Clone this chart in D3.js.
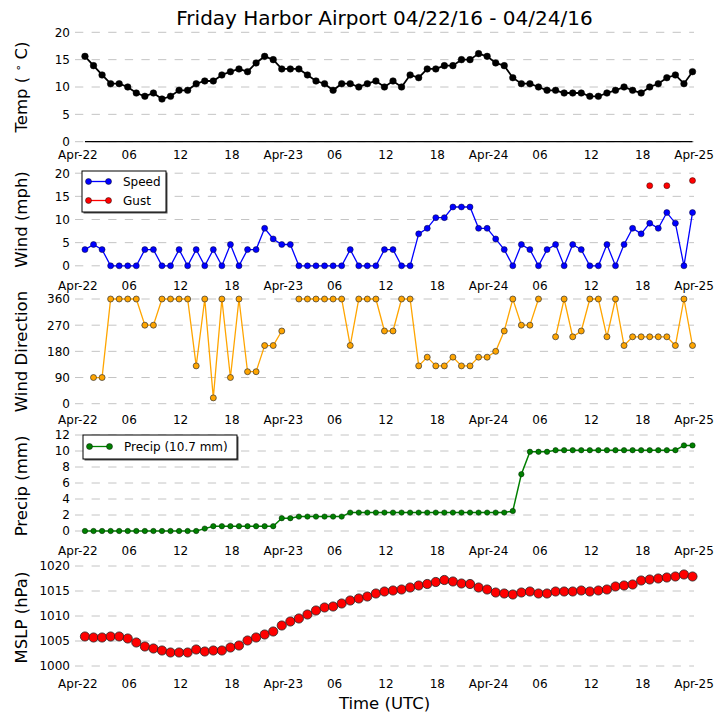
<!DOCTYPE html>
<html>
<head>
<meta charset="utf-8">
<script src="https://cdn.jsdelivr.net/npm/d3@7"></script>
<style>
	body { margin: 0; background: #fff; }
</style>
</head>
<body>
<div id="chart"></div>
<script>
// hourly METAR observations, Friday Harbor Airport
const obsTimes = [
	'2016-04-22 00:53','2016-04-22 01:53','2016-04-22 02:53','2016-04-22 03:53','2016-04-22 04:53','2016-04-22 05:53',
	'2016-04-22 06:53','2016-04-22 07:53','2016-04-22 08:53','2016-04-22 09:53','2016-04-22 10:53','2016-04-22 11:53',
	'2016-04-22 12:53','2016-04-22 13:53','2016-04-22 14:53','2016-04-22 15:53','2016-04-22 16:53','2016-04-22 17:53',
	'2016-04-22 18:53','2016-04-22 19:53','2016-04-22 20:53','2016-04-22 21:53','2016-04-22 22:53','2016-04-22 23:53',
	'2016-04-23 00:53','2016-04-23 01:53','2016-04-23 02:53','2016-04-23 03:53','2016-04-23 04:53','2016-04-23 05:53',
	'2016-04-23 06:53','2016-04-23 07:53','2016-04-23 08:53','2016-04-23 09:53','2016-04-23 10:53','2016-04-23 11:53',
	'2016-04-23 12:53','2016-04-23 13:53','2016-04-23 14:53','2016-04-23 15:53','2016-04-23 16:53','2016-04-23 17:53',
	'2016-04-23 18:53','2016-04-23 19:53','2016-04-23 20:53','2016-04-23 21:53','2016-04-23 22:53','2016-04-23 23:53',
	'2016-04-24 00:53','2016-04-24 01:53','2016-04-24 02:53','2016-04-24 03:53','2016-04-24 04:53','2016-04-24 05:53',
	'2016-04-24 06:53','2016-04-24 07:53','2016-04-24 08:53','2016-04-24 09:53','2016-04-24 10:53','2016-04-24 11:53',
	'2016-04-24 12:53','2016-04-24 13:53','2016-04-24 14:53','2016-04-24 15:53','2016-04-24 16:53','2016-04-24 17:53',
	'2016-04-24 18:53','2016-04-24 19:53','2016-04-24 20:53','2016-04-24 21:53','2016-04-24 22:53','2016-04-24 23:53'
];

const tempC = [
	15.6, 13.9, 12.2, 10.6, 10.6, 10.0, 8.9, 8.3, 8.9, 7.8,
	8.3, 9.4, 9.4, 10.6, 11.1, 11.1, 12.2, 12.8, 13.3, 12.8,
	14.4, 15.6, 15.0, 13.3, 13.3, 13.3, 12.2, 11.1, 10.6, 9.4,
	10.6, 10.6, 10.0, 10.6, 11.1, 10.0, 11.1, 10.0, 12.2, 11.7,
	13.3, 13.3, 13.9, 13.9, 15.0, 15.0, 16.1, 15.6, 14.4, 13.9,
	11.7, 10.6, 10.6, 10.0, 9.4, 9.4, 8.9, 8.9, 8.9, 8.3,
	8.3, 8.9, 9.4, 10.0, 9.4, 8.9, 10.0, 10.6, 11.7, 12.2,
	10.6, 12.8
];

const windSpeed = [
	3.5, 4.6, 3.5, 0, 0, 0, 0, 3.5, 3.5, 0,
	0, 3.5, 0, 3.5, 0, 3.5, 0, 4.6, 0, 3.5,
	3.5, 8.1, 5.8, 4.6, 4.6, 0, 0, 0, 0, 0,
	0, 3.5, 0, 0, 0, 3.5, 3.5, 0, 0, 6.9,
	8.1, 10.4, 10.4, 12.7, 12.7, 12.7, 8.1, 8.1, 5.8, 3.5,
	0, 4.6, 3.5, 0, 3.5, 4.6, 0, 4.6, 3.5, 0,
	0, 4.6, 0, 4.6, 8.1, 6.9, 9.2, 8.1, 11.5, 9.2,
	0, 11.5
];

const windGust = [
	null, null, null, null, null, null, null, null, null, null,
	null, null, null, null, null, null, null, null, null, null,
	null, null, null, null, null, null, null, null, null, null,
	null, null, null, null, null, null, null, null, null, null,
	null, null, null, null, null, null, null, null, null, null,
	null, null, null, null, null, null, null, null, null, null,
	null, null, null, null, null, null, 17.3, null, 17.3, null,
	null, 18.4
];

// null = variable direction
const windDir = [
	null, 90, 90, 360, 360, 360, 360, 270, 270, 360,
	360, 360, 360, 130, 360, 20, 360, 90, 360, 110,
	110, 200, 200, 250, null, 360, 360, 360, 360, 360,
	360, 200, 360, 360, 360, 250, 250, 360, 360, 130,
	160, 130, 130, 160, 130, 130, 160, 160, 180, 250,
	360, 270, 270, 360, null, 230, 360, 230, 250, 360,
	360, 230, 360, 200, 230, 230, 230, 230, 230, 200,
	360, 200
];

const precipMm = [
	0, 0, 0, 0, 0, 0, 0, 0, 0, 0,
	0, 0, 0, 0, 0.3, 0.6, 0.6, 0.6, 0.6, 0.6,
	0.6, 0.6, 0.6, 1.6, 1.6, 1.8, 1.8, 1.8, 1.8, 1.8,
	1.8, 2.3, 2.3, 2.3, 2.3, 2.3, 2.3, 2.3, 2.3, 2.3,
	2.3, 2.3, 2.3, 2.3, 2.3, 2.3, 2.3, 2.3, 2.3, 2.3,
	2.5, 7.1, 9.9, 9.9, 9.9, 10.1, 10.1, 10.1, 10.1, 10.1,
	10.1, 10.1, 10.1, 10.1, 10.1, 10.1, 10.1, 10.1, 10.1, 10.1,
	10.7, 10.7
];

const mslp = [
	1005.9, 1005.7, 1005.7, 1005.9, 1005.9, 1005.5, 1004.7, 1003.9, 1003.5, 1003.1,
	1002.7, 1002.7, 1002.7, 1003.3, 1002.9, 1003.1, 1003.1, 1003.7, 1004.1, 1005.1,
	1005.7, 1006.3, 1006.9, 1008.1, 1008.9, 1009.5, 1010.3, 1011.1, 1011.7, 1011.9,
	1012.5, 1013.1, 1013.5, 1013.9, 1014.5, 1014.9, 1015.1, 1015.3, 1015.7, 1016.1,
	1016.4, 1016.8, 1017.2, 1016.9, 1016.5, 1016.4, 1015.7, 1015.3, 1014.7, 1014.5,
	1014.3, 1014.7, 1014.9, 1014.5, 1014.5, 1014.9, 1014.9, 1014.9, 1015.1, 1014.9,
	1015.1, 1015.3, 1015.9, 1016.1, 1016.3, 1017.1, 1017.3, 1017.5, 1017.7, 1017.9,
	1018.3, 1017.9
];

const xTickLabels = ['Apr-22', '06', '12', '18', 'Apr-23', '06', '12', '18', 'Apr-24', '06', '12', '18', 'Apr-25'];
const tempTicks = [0, 5, 10, 15, 20];
const windTicks = [0, 5, 10, 15, 20];
const dirTicks = [0, 90, 180, 270, 360];
const precipTicks = [0, 2, 4, 6, 8, 10, 12];
const mslpTicks = [1000, 1005, 1010, 1015, 1020];

const font = 'DejaVu Sans';
let svgWidth = 725
let svgHeight = 725
let plotLeft = 75
let plotRight = 694

let svg = d3.select('#chart').append('svg')
	.attr('width', svgWidth)
	.attr('height', svgHeight)
	.style('background', '#fff')

let parseTime = d3.utcParse('%Y-%m-%d %H:%M');
let times = obsTimes.map(parseTime);
let start = Date.UTC(2016, 3, 22);

let x = d3.scaleUtc()
	.domain([new Date(start), new Date(Date.UTC(2016, 3, 25))])
	.range([77.4, 693.5]);
let xTicks = xTickLabels.map((d, i) => d3.utcHour.offset(new Date(start), 6 * i));

svg.append('text')
	.attr('x', (plotLeft + plotRight) / 2)
	.attr('y', 25)
	.attr('text-anchor', 'middle')
	.attr('font-family', font)
	.attr('font-size', '20px')
	.attr('fill', 'black')
	.text('Friday Harbor Airport 04/22/16 - 04/24/16')

function drawPanel(p) {
	let y = d3.scaleLinear()
		.domain([p.ticks[0], p.ticks[p.ticks.length - 1]])
		.range([p.bottom, p.top]);

	svg.append('g')
		.classed('grid', true)
		.selectAll('line')
		.data(p.ticks)
		.enter()
		.append('line')
		.attr('x1', plotLeft)
		.attr('x2', plotRight)
		.attr('y1', d => y(d))
		.attr('y2', d => y(d))
		.attr('stroke', '#c4c4c4')
		.attr('stroke-width', 1)
		.attr('stroke-dasharray', '8.3,8.3')

	svg.append('g')
		.classed('y-axis', true)
		.attr('transform', 'translate(70, 0)')
		.call(d3.axisLeft(y).tickValues(p.ticks).tickSize(0).tickPadding(0)
			.tickFormat(d3.format('d')))
		.call(g => g.select('.domain').remove())
		.attr('font-family', font)
		.attr('font-size', 12)

	svg.append('g')
		.classed('x-axis', true)
		.attr('transform', `translate(0, ${p.xBaseline - 8.5})`)
		.call(d3.axisBottom(x).tickValues(xTicks).tickSize(0).tickPadding(0)
			.tickFormat((d, i) => xTickLabels[i]))
		.call(g => g.select('.domain').remove())
		.attr('font-family', font)
		.attr('font-size', 12)

	let label = svg.append('text')
		.attr('transform', `translate(27, ${p.labelY}) rotate(-90)`)
		.attr('text-anchor', 'middle')
		.attr('font-family', font)
		.attr('font-size', '16.5px')
		.attr('fill', 'black')
	p.label.forEach(part => {
		let t = label.append('tspan').text(part.text)
		if (part.sup) t.attr('font-size', '11px').attr('dy', '-0.45em')
		if (part.down) t.attr('dy', '0.3em')
	})
	return y;
}

function drawSeries(y, values, opt) {
	let pts = values.map((v, i) => ({ t: times[i], v: v }));
	if (opt.line) {
		let line = d3.line()
			.defined(d => d.v != null)
			.x(d => x(d.t))
			.y(d => y(d.v));
		svg.append('path')
			.datum(pts)
			.attr('d', line)
			.attr('fill', 'none')
			.attr('stroke', opt.color)
			.attr('stroke-width', opt.lineWidth)
	}
	svg.append('g')
		.selectAll('circle')
		.data(pts.filter(d => d.v != null))
		.enter()
		.append('circle')
		.attr('cx', d => x(d.t))
		.attr('cy', d => y(d.v))
		.attr('r', opt.r)
		.attr('fill', opt.color)
		.attr('stroke', opt.edge)
		.attr('stroke-width', opt.edgeWidth)
}

function drawLegend(x0, y0, w, h, items) {
	let g = svg.append('g').classed('legend', true)
	g.append('rect')
		.attr('x', x0 + 1.5).attr('y', y0 + 1.5)
		.attr('width', w).attr('height', h)
		.attr('fill', '#555')
	g.append('rect')
		.attr('x', x0).attr('y', y0)
		.attr('width', w).attr('height', h)
		.attr('fill', 'white')
		.attr('stroke', 'black')
		.attr('stroke-width', 1)
	items.forEach(it => {
		g.append('line')
			.attr('x1', x0 + 6.5).attr('x2', x0 + 26.5)
			.attr('y1', it.y).attr('y2', it.y)
			.attr('stroke', it.color).attr('stroke-width', 1.3)
		g.selectAll(null)
			.data([x0 + 6.5, x0 + 26.5])
			.enter()
			.append('circle')
			.attr('cx', d => d).attr('cy', it.y).attr('r', 3)
			.attr('fill', it.color)
			.attr('stroke', '#111').attr('stroke-width', 0.5)
		g.append('text')
			.attr('x', x0 + 41)
			.attr('y', it.y)
			.attr('dy', '0.35em')
			.attr('font-family', font)
			.attr('font-size', '12px')
			.text(it.text)
	})
}

// temperature
let yTemp = drawPanel({ ticks: tempTicks, top: 32.3, bottom: 141.7, xBaseline: 159, labelY: 87,
	label: [{ text: 'Temp ( ' }, { text: '∘', sup: true }, { text: ' C)', down: true }] });
svg.append('line')
	.attr('x1', x(times[0]))
	.attr('x2', x(times[times.length - 1]))
	.attr('y1', yTemp(0))
	.attr('y2', yTemp(0))
	.attr('stroke', 'black')
	.attr('stroke-width', 1.3)
drawSeries(yTemp, tempC, { line: true, color: 'black', lineWidth: 1.8, r: 3.3, edge: 'black', edgeWidth: 0.5 });

// wind speed / gust
let yWind = drawPanel({ ticks: windTicks, top: 173.2, bottom: 265.8, xBaseline: 289.7, labelY: 219.5,
	label: [{ text: 'Wind (mph)' }] });
drawSeries(yWind, windSpeed, { line: true, color: '#0000ff', lineWidth: 1.3, r: 3, edge: '#000033', edgeWidth: 0.5 });
drawSeries(yWind, windGust, { line: true, color: '#ff0000', lineWidth: 1.3, r: 3, edge: '#330000', edgeWidth: 0.5 });
drawLegend(82, 171, 84, 41, [
	{ text: 'Speed', color: '#0000ff', y: 181.5 },
	{ text: 'Gust', color: '#ff0000', y: 200.5 }
]);

// wind direction
let yDir = drawPanel({ ticks: dirTicks, top: 299, bottom: 403.7, xBaseline: 423.5, labelY: 351.5,
	label: [{ text: 'Wind Direction' }] });
drawSeries(yDir, windDir, { line: true, color: '#ffa500', lineWidth: 1.3, r: 3, edge: '#333', edgeWidth: 0.7 });

// precipitation
let yPrecip = drawPanel({ ticks: precipTicks, top: 435, bottom: 531, xBaseline: 555.3, labelY: 486,
	label: [{ text: 'Precip (mm)' }] });
drawSeries(yPrecip, precipMm, { line: true, color: '#008000', lineWidth: 1.5, r: 2.7, edge: '#002200', edgeWidth: 0.5 });
drawLegend(83, 435, 154, 24, [
	{ text: 'Precip (10.7 mm)', color: '#008000', y: 446.5 }
]);

// sea level pressure
let yMslp = drawPanel({ ticks: mslpTicks, top: 566, bottom: 666, xBaseline: 687.7, labelY: 617.5,
	label: [{ text: 'MSLP (hPa)' }] });
drawSeries(yMslp, mslp, { line: false, color: '#ff0000', r: 4.6, edge: '#222', edgeWidth: 0.8 });

svg.append('text')
	.attr('x', (plotLeft + plotRight) / 2)
	.attr('y', 709)
	.attr('text-anchor', 'middle')
	.attr('font-family', font)
	.attr('font-size', '16.5px')
	.attr('fill', 'black')
	.text('Time (UTC)')
</script>
</body>
</html>
